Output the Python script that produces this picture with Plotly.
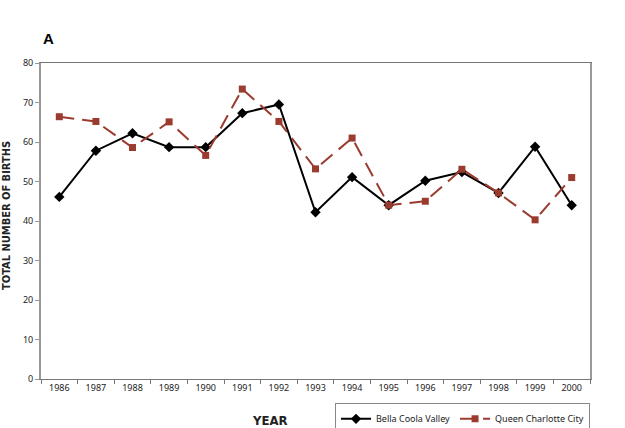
import plotly.graph_objects as go

years = [str(y) for y in range(1986, 2001)]
bella_coola = [46.1, 57.8, 62.2, 58.7, 58.7, 67.3, 69.5, 42.2, 51.1, 44.0, 50.2, 52.4, 47.1, 58.8, 44.0]
queen_charlotte = [66.4, 65.2, 58.6, 65.1, 56.6, 73.4, 65.2, 53.2, 61.0, 44.0, 45.0, 53.1, 47.1, 40.3, 51.0]

RED = "#9b3b2f"
TICK_FONT = dict(family="Noto Sans, Open Sans, sans-serif", size=9, color="#222222")
COND_FONT = "DejaVu Sans Condensed, Liberation Sans Narrow, Arial Narrow, sans-serif"

# plot area in pixels: x 41..590, y 63..379
fig = go.Figure()
fig.add_trace(go.Scatter(
    x=years, y=bella_coola, mode="lines+markers", name="Bella Coola Valley",
    line=dict(color="black", width=2),
    marker=dict(symbol="diamond", size=8, color="black"),
))
fig.add_trace(go.Scatter(
    x=years, y=queen_charlotte, mode="lines+markers", name="Queen Charlotte City",
    line=dict(color=RED, width=2, dash="15px,8px"),
    marker=dict(symbol="square", size=7, color=RED),
))

fig.update_layout(
    width=625, height=428,
    margin=dict(l=41, r=35, t=63, b=49, autoexpand=False),
    paper_bgcolor="white", plot_bgcolor="white",
    showlegend=True,
    legend=dict(
        orientation="h", x=1.0, xanchor="right", y=-0.077, yanchor="top",
        bordercolor="#888888", borderwidth=1,
        font=dict(family="Noto Sans, Open Sans, sans-serif", size=9, color="#222222"),
        itemwidth=30, tracegroupgap=0,
    ),
    xaxis=dict(
        type="category", range=[-0.5, 14.5],
        showgrid=False, showline=True, linecolor="#777777", linewidth=1,
        mirror=True, ticks="outside", tickson="boundaries", ticklen=4,
        tickcolor="#777777", tickfont=TICK_FONT,
    ),
    yaxis=dict(
        range=[0, 80], dtick=10, showgrid=False,
        showline=True, linecolor="#999999", linewidth=2, mirror=True,
        ticks="outside", ticklen=4, tickcolor="#999999", tickfont=TICK_FONT,
    ),
    annotations=[
        dict(text="<b>A</b>", x=(48 - 41) / 549, y=(379 - 38) / 316, xref="paper", yref="paper",
             xanchor="center", yanchor="middle", showarrow=False,
             font=dict(family="Liberation Sans, Arial, sans-serif", size=15, color="black")),
        dict(text="<b>TOTAL NUMBER OF BIRTHS</b>", textangle=-90, showarrow=False,
             xref="paper", yref="paper", x=(6 - 41) / 549, y=(379 - 216) / 316,
             xanchor="center", yanchor="middle",
             font=dict(family=COND_FONT, size=11, color="#222222")),
        dict(text="<b>YEAR</b>", showarrow=False, xref="paper", yref="paper",
             x=(270 - 41) / 549, y=(379 - 420) / 316, xanchor="center", yanchor="middle",
             font=dict(family=COND_FONT, size=13, color="#222222")),
    ],
)

fig.write_html("out.html", config={"displayModeBar": False},
               post_script="document.body.style.margin='0';")
